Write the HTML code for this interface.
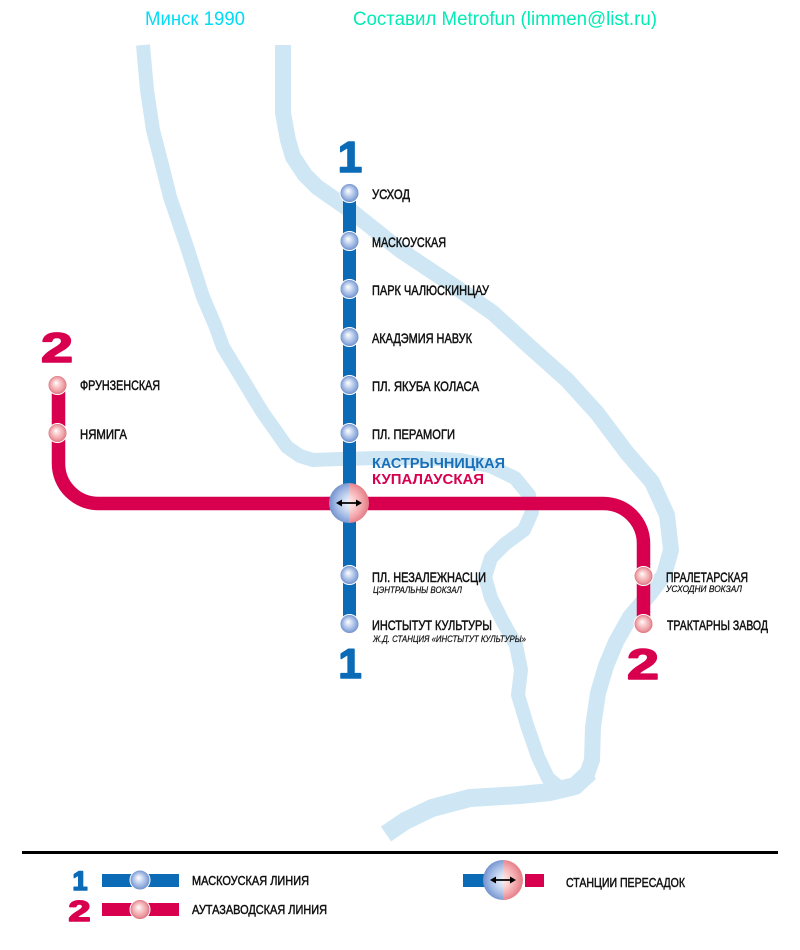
<!DOCTYPE html>
<html>
<head>
<meta charset="utf-8">
<style>
html,body{margin:0;padding:0;background:#fff;}
svg{display:block;}
text{font-family:"Liberation Sans","DejaVu Sans",sans-serif;}
.st{font-size:14px;fill:#111;stroke:#111;stroke-width:0.5;}
.sub{font-size:9px;font-style:italic;fill:#111;stroke:#111;stroke-width:0.2;}
.lg{font-size:12.5px;fill:#111;stroke:#111;stroke-width:0.45;}
.num{font-weight:bold;stroke-width:1.6;stroke-linejoin:round;}
</style>
</head>
<body>
<svg width="800" height="950" viewBox="0 0 800 950" xmlns="http://www.w3.org/2000/svg">
<defs>
  <radialGradient id="gB" cx="0.5" cy="0.5" r="0.5" fx="0.42" fy="0.38">
    <stop offset="0" stop-color="#ffffff"/>
    <stop offset="0.3" stop-color="#d5e0f3"/>
    <stop offset="0.75" stop-color="#93aedf"/>
    <stop offset="1" stop-color="#6a8cc8"/>
  </radialGradient>
  <radialGradient id="gR" cx="0.5" cy="0.5" r="0.5" fx="0.42" fy="0.38">
    <stop offset="0" stop-color="#ffffff"/>
    <stop offset="0.3" stop-color="#fad4d4"/>
    <stop offset="0.75" stop-color="#ee9ca3"/>
    <stop offset="1" stop-color="#d86c78"/>
  </radialGradient>
  <radialGradient id="iB1" gradientUnits="userSpaceOnUse" cx="351" cy="503" r="21">
    <stop offset="0" stop-color="#f6f8fd"/>
    <stop offset="0.35" stop-color="#d3def2"/>
    <stop offset="0.7" stop-color="#a3bbe5"/>
    <stop offset="1" stop-color="#7896cf"/>
  </radialGradient>
  <radialGradient id="iR1" gradientUnits="userSpaceOnUse" cx="347" cy="503" r="21">
    <stop offset="0" stop-color="#fff4f4"/>
    <stop offset="0.35" stop-color="#fbd3d3"/>
    <stop offset="0.7" stop-color="#f3a9ad"/>
    <stop offset="1" stop-color="#e5808a"/>
  </radialGradient>
  <radialGradient id="iB2" gradientUnits="userSpaceOnUse" cx="505" cy="880" r="21">
    <stop offset="0" stop-color="#f6f8fd"/>
    <stop offset="0.35" stop-color="#d3def2"/>
    <stop offset="0.7" stop-color="#a3bbe5"/>
    <stop offset="1" stop-color="#7896cf"/>
  </radialGradient>
  <radialGradient id="iR2" gradientUnits="userSpaceOnUse" cx="501" cy="880" r="21">
    <stop offset="0" stop-color="#fff4f4"/>
    <stop offset="0.35" stop-color="#fbd3d3"/>
    <stop offset="0.7" stop-color="#f3a9ad"/>
    <stop offset="1" stop-color="#e5808a"/>
  </radialGradient>
</defs>

<rect width="800" height="950" fill="#fff"/>

<!-- header -->
<text x="145" y="25" font-size="19" fill="#00dcf6" textLength="100" lengthAdjust="spacingAndGlyphs">Минск 1990</text>
<text x="353" y="25" font-size="19" fill="#00ecb4" textLength="304" lengthAdjust="spacingAndGlyphs">Составил Metrofun (limmen@list.ru)</text>

<!-- rivers -->
<g fill="none" stroke="#cfe7f4" stroke-linejoin="round" stroke-linecap="round">
  <path stroke-width="14" stroke-linecap="butt" d="M143,45 L147,90 L153,130 L162,165 L170,197 L187,247 L203,297 L215,325 L223,347 L243,380 L255,400 L263,413 L275,430 L287,447 L300,456 L313,460 L340,459 L380,458 L420,458 L460,460 L490,466 L515,478 L529,495 L532,512 L524,530 L505,544 L491,558 L485,577 L491,598 L503,622 L516,645 L521,670 L518,695 L527,725 L538,757 L548,778 L560,788"/>
  <path stroke-width="16" stroke-linecap="butt" d="M283,45 L283,113 L288,140 L293,157 L305,175 L317,187 L350,210 L400,250 L460,290 L493,313 L530,347 L567,380 L597,413 L627,453 L652,482 L667,515 L671,550 L664,575 L648,596 L630,617 L616,642 L606,666 L598,693 L593,727 L592,760 L585,780"/>
  <path stroke-width="18" stroke-linecap="butt" d="M590,772 L575,786 L550,792 L520,795 L470,798 L432,808 L405,821 L386,834"/>
</g>

<!-- line 1 (blue) -->
<rect x="343" y="193" width="13" height="431" fill="#0b6bb7"/>

<!-- line 2 (red) -->
<path d="M58.5,385 V463.5 A40,40 0 0 0 98.5,503.5 H603.5 A40,40 0 0 1 643.5,543.5 V624" fill="none" stroke="#d8004e" stroke-width="13.5"/>

<!-- blue stations -->
<g fill="url(#gB)" stroke="#ffffff" stroke-width="1">
  <circle cx="349.5" cy="193" r="9.5"/>
  <circle cx="349.5" cy="241" r="9.5"/>
  <circle cx="349.5" cy="289" r="9.5"/>
  <circle cx="349.5" cy="337" r="9.5"/>
  <circle cx="349.5" cy="385" r="9.5"/>
  <circle cx="349.5" cy="433" r="9.5"/>
  <circle cx="349.5" cy="575" r="9.5"/>
  <circle cx="349.5" cy="624" r="9.5"/>
</g>
<!-- red stations -->
<g fill="url(#gR)" stroke="#ffffff" stroke-width="1">
  <circle cx="57.5" cy="385" r="9.5"/>
  <circle cx="57.5" cy="433" r="9.5"/>
  <circle cx="643.5" cy="576" r="9.5"/>
  <circle cx="643.5" cy="624" r="9.5"/>
</g>

<!-- interchange -->
<path d="M349,483 A20,20 0 0 0 349,523 Z" fill="url(#iB1)"/>
<path d="M349,483 A20,20 0 0 1 349,523 Z" fill="url(#iR1)"/>
<line x1="340" y1="503" x2="358" y2="503" stroke="#000" stroke-width="1.8"/>
<polygon points="336,503 342,499.5 342,506.5" fill="#000"/>
<polygon points="362,503 356,499.5 356,506.5" fill="#000"/>

<!-- line numbers -->
<text class="num" x="350" y="172" font-size="44" fill="#0b6bb7" stroke="#0b6bb7" text-anchor="middle">1</text>
<text class="num" x="350" y="678" font-size="42" fill="#0b6bb7" stroke="#0b6bb7" text-anchor="middle">1</text>
<text class="num" x="41" y="362" font-size="42" fill="#d8004e" stroke="#d8004e" textLength="32" lengthAdjust="spacingAndGlyphs">2</text>
<text class="num" x="627" y="679" font-size="43" fill="#d8004e" stroke="#d8004e" textLength="32" lengthAdjust="spacingAndGlyphs">2</text>

<!-- station labels line 1 -->
<text class="st" x="372" y="199" textLength="38" lengthAdjust="spacingAndGlyphs">УСХОД</text>
<text class="st" x="372" y="247" textLength="74" lengthAdjust="spacingAndGlyphs">МАСКОУСКАЯ</text>
<text class="st" x="372" y="295" textLength="117" lengthAdjust="spacingAndGlyphs">ПАРК ЧАЛЮСКИНЦАУ</text>
<text class="st" x="372" y="343" textLength="100" lengthAdjust="spacingAndGlyphs">АКАДЭМИЯ НАВУК</text>
<text class="st" x="372" y="391" textLength="107" lengthAdjust="spacingAndGlyphs">ПЛ. ЯКУБА КОЛАСА</text>
<text class="st" x="372" y="439" textLength="83" lengthAdjust="spacingAndGlyphs">ПЛ. ПЕРАМОГИ</text>

<text x="372" y="468" font-size="15" font-weight="bold" fill="#1a70b8" textLength="133" lengthAdjust="spacingAndGlyphs">КАСТРЫЧНИЦКАЯ</text>
<text x="372" y="484" font-size="15" font-weight="bold" fill="#d8004e" textLength="112" lengthAdjust="spacingAndGlyphs">КУПАЛАУСКАЯ</text>

<text class="st" x="372" y="582" textLength="114" lengthAdjust="spacingAndGlyphs">ПЛ. НЕЗАЛЕЖНАСЦИ</text>
<text class="sub" x="373" y="593" textLength="89" lengthAdjust="spacingAndGlyphs">ЦЭНТРАЛЬНЫ ВОКЗАЛ</text>
<text class="st" x="372" y="630" textLength="120" lengthAdjust="spacingAndGlyphs">ИНСТЫТУТ КУЛЬТУРЫ</text>
<text class="sub" x="373" y="642" textLength="153" lengthAdjust="spacingAndGlyphs">Ж.Д. СТАНЦИЯ «ИНСТЫТУТ КУЛЬТУРЫ»</text>

<!-- station labels line 2 -->
<text class="st" x="80" y="390" textLength="80" lengthAdjust="spacingAndGlyphs">ФРУНЗЕНСКАЯ</text>
<text class="st" x="80" y="439" textLength="47" lengthAdjust="spacingAndGlyphs">НЯМИГА</text>
<text class="st" x="666" y="582" textLength="82" lengthAdjust="spacingAndGlyphs">ПРАЛЕТАРСКАЯ</text>
<text class="sub" x="666" y="592" textLength="76" lengthAdjust="spacingAndGlyphs">УСХОДНИ ВОКЗАЛ</text>
<text class="st" x="667" y="630" textLength="101" lengthAdjust="spacingAndGlyphs">ТРАКТАРНЫ ЗАВОД</text>

<!-- legend -->
<rect x="22" y="851" width="756" height="3" fill="#000"/>

<text class="num" x="80" y="890" font-size="27" fill="#0b6bb7" stroke="#0b6bb7" stroke-width="1" text-anchor="middle">1</text>
<rect x="102" y="874" width="77" height="13" fill="#0b6bb7"/>
<circle cx="140" cy="880" r="10" fill="url(#gB)" stroke="#fff" stroke-width="1"/>
<text class="lg" x="192" y="885" textLength="117" lengthAdjust="spacingAndGlyphs">МАСКОУСКАЯ ЛИНИЯ</text>

<text class="num" x="68.5" y="921" font-size="29" fill="#d8004e" stroke="#d8004e" stroke-width="1" textLength="22" lengthAdjust="spacingAndGlyphs">2</text>
<rect x="102" y="903" width="77" height="13" fill="#d8004e"/>
<circle cx="140" cy="909.5" r="10" fill="url(#gR)" stroke="#fff" stroke-width="1"/>
<text class="lg" x="192" y="914" textLength="135" lengthAdjust="spacingAndGlyphs">АУТАЗАВОДСКАЯ ЛИНИЯ</text>

<rect x="463" y="874" width="22" height="13" fill="#0b6bb7"/>
<rect x="525" y="874" width="19" height="13" fill="#d8004e"/>
<path d="M503,860 A20,20 0 0 0 503,900 Z" fill="url(#iB2)"/>
<path d="M503,860 A20,20 0 0 1 503,900 Z" fill="url(#iR2)"/>
<line x1="494" y1="880" x2="512" y2="880" stroke="#000" stroke-width="1.8"/>
<polygon points="490,880 496,876.5 496,883.5" fill="#000"/>
<polygon points="516,880 510,876.5 510,883.5" fill="#000"/>
<text class="lg" x="566" y="887" textLength="119" lengthAdjust="spacingAndGlyphs">СТАНЦИИ ПЕРЕСАДОК</text>
</svg>
</body>
</html>
